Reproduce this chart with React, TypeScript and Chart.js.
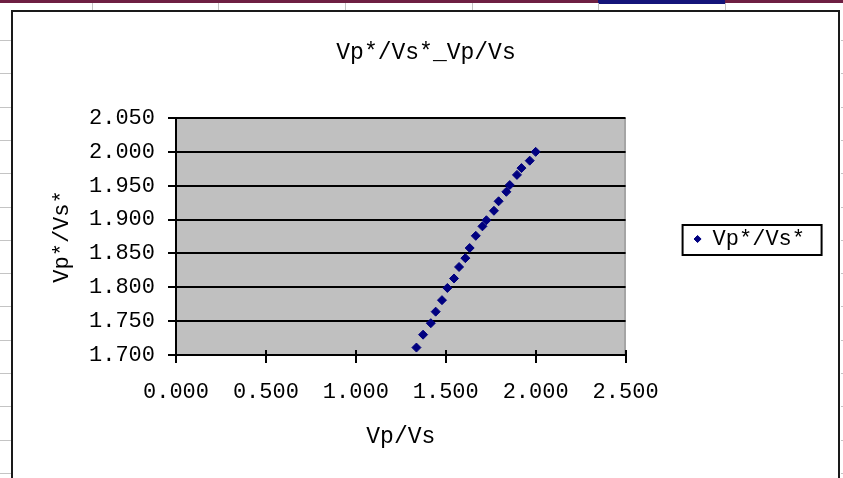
import { useEffect, useRef } from "react";
import { Chart, registerables } from "chart.js";

Chart.register(...registerables);

// Vp/Vs against Vp*/Vs* sample pairs
const vpVs = [
  1.337, 1.374, 1.417, 1.444, 1.479, 1.509, 1.546, 1.574, 1.609, 1.633, 1.667,
  1.704, 1.726, 1.768, 1.794, 1.837, 1.856, 1.896, 1.921, 1.967, 2.0,
];
const vpVsStar = [
  1.711, 1.73, 1.747, 1.764, 1.781, 1.799, 1.813, 1.83, 1.843, 1.858, 1.876,
  1.89, 1.899, 1.913, 1.927, 1.941, 1.951, 1.966, 1.976, 1.987, 2.0,
];

const xTickValues = [0, 0.5, 1.0, 1.5, 2.0, 2.5];
const yTickValues = [1.7, 1.75, 1.8, 1.85, 1.9, 1.95, 2.0, 2.05];

const chartTitle = "Vp*/Vs*_Vp/Vs";
const seriesName = "Vp*/Vs*";
const xAxisTitle = "Vp/Vs";
const yAxisTitle = "Vp*/Vs*";

const FONT = "'Liberation Mono', 'DejaVu Sans Mono', monospace";
const INK = "#000000";
const SERIES_COLOR = "#000080";

// Spreadsheet surroundings, the chart frame and the grey plot area
const sheetBackdrop = {
  id: "sheetBackdrop",
  beforeDraw(chart: any) {
    const { ctx, width, height, chartArea } = chart;
    ctx.save();
    ctx.fillStyle = "#ffffff";
    ctx.fillRect(0, 0, width, height);

    ctx.fillStyle = "#6e1f42";
    ctx.fillRect(0, 0, width, 3);
    ctx.fillStyle = "#14147a";
    ctx.fillRect(598, 0, 127, 4);

    ctx.strokeStyle = "#c4c4c4";
    ctx.lineWidth = 1;
    for (const x of [92, 218, 345, 472, 598, 725]) {
      ctx.beginPath();
      ctx.moveTo(x + 0.5, 3);
      ctx.lineTo(x + 0.5, 10);
      ctx.stroke();
    }
    for (let y = 40; y < height; y += 33.3) {
      const yy = Math.round(y) + 0.5;
      ctx.beginPath();
      ctx.moveTo(0, yy);
      ctx.lineTo(11, yy);
      ctx.moveTo(841, yy);
      ctx.lineTo(width, yy);
      ctx.stroke();
    }

    ctx.strokeStyle = "#1a1a1a";
    ctx.lineWidth = 2;
    ctx.strokeRect(12, 11, 827, 600);

    const { left, top, right, bottom } = chartArea;
    ctx.fillStyle = "#c0c0c0";
    ctx.fillRect(left, top, right - left, bottom - top);
    ctx.strokeStyle = "#808080";
    ctx.lineWidth = 1;
    ctx.beginPath();
    ctx.moveTo(right - 0.5, top);
    ctx.lineTo(right - 0.5, bottom);
    ctx.stroke();
    ctx.restore();
  },
};

// Category-axis tick marks that cross into the plot area
const crossTicks = {
  id: "crossTicks",
  beforeDatasetsDraw(chart: any) {
    const { ctx, chartArea } = chart;
    const xScale = chart.scales.x;
    ctx.save();
    ctx.strokeStyle = INK;
    ctx.lineWidth = 2;
    for (const t of xScale.ticks) {
      const px = Math.round(xScale.getPixelForValue(t.value));
      ctx.beginPath();
      ctx.moveTo(px, chartArea.bottom - 5);
      ctx.lineTo(px, chartArea.bottom);
      ctx.stroke();
    }
    ctx.restore();
  },
};

// Border round the legend entry
const legendFrame = {
  id: "legendFrame",
  afterDraw(chart: any) {
    const box = chart.legend?.legendHitBoxes?.[0];
    if (!box) return;
    const { ctx } = chart;
    const cy = box.top + box.height / 2;
    ctx.save();
    ctx.strokeStyle = INK;
    ctx.lineWidth = 2;
    ctx.strokeRect(box.left - 11, cy - 14, 139, 30);
    ctx.restore();
  },
};

export default function App() {
  const canvasRef = useRef<HTMLCanvasElement>(null);

  useEffect(() => {
    const canvas = canvasRef.current;
    if (!canvas) return;
    const points = vpVs.map((x, i) => ({ x, y: vpVsStar[i] }));

    const chart = new Chart(canvas, {
      type: "scatter",
      data: {
        datasets: [
          {
            label: seriesName,
            data: points,
            pointStyle: "rectRot",
            pointRadius: 4.5,
            pointBackgroundColor: SERIES_COLOR,
            pointBorderColor: SERIES_COLOR,
            backgroundColor: SERIES_COLOR,
            borderColor: SERIES_COLOR,
            pointBorderWidth: 1,
            showLine: false,
          },
        ],
      },
      options: {
        animation: false,
        responsive: false,
        devicePixelRatio: 1,
        events: [],
        layout: { padding: { left: 37, right: 28, top: 0, bottom: 0 } },
        plugins: {
          title: {
            display: true,
            text: chartTitle,
            color: INK,
            font: { family: FONT, size: 23, weight: "normal", lineHeight: 1.2 },
            padding: { top: 39.2, bottom: 51.2 },
          },
          legend: {
            display: true,
            position: "right",
            align: "center",
            labels: {
              usePointStyle: true,
              boxWidth: 8,
              boxHeight: 5,
              padding: 68,
              color: INK,
              font: { family: FONT, size: 22 },
            },
          },
          tooltip: { enabled: false },
        },
        scales: {
          x: {
            type: "linear",
            position: "bottom",
            min: 0,
            max: 2.5,
            afterBuildTicks: (s: any) => {
              s.ticks = xTickValues.map((value) => ({ value }));
            },
            afterFit: (s: any) => {
              s.height = 123;
            },
            ticks: {
              callback: (v: any) => Number(v).toFixed(3),
              color: INK,
              font: { family: FONT, size: 22 },
              padding: 16,
              maxRotation: 0,
              autoSkip: false,
            },
            grid: {
              drawOnChartArea: false,
              drawTicks: true,
              color: INK,
              lineWidth: 2,
              tickLength: 8,
            },
            border: { display: true, color: INK, width: 2 },
            title: {
              display: true,
              text: xAxisTitle,
              color: INK,
              font: { family: FONT, size: 23, lineHeight: 1.2 },
              padding: { top: 0, bottom: 27.2 },
            },
          },
          y: {
            type: "linear",
            position: "left",
            min: 1.7,
            max: 2.05,
            afterBuildTicks: (s: any) => {
              s.ticks = yTickValues.map((value) => ({ value }));
            },
            afterFit: (s: any) => {
              s.width = 139;
            },
            ticks: {
              callback: (v: any) => Number(v).toFixed(3),
              color: INK,
              font: { family: FONT, size: 22 },
              padding: 13,
              autoSkip: false,
            },
            grid: {
              color: INK,
              lineWidth: 2,
              tickLength: 8,
            },
            border: { display: true, color: INK, width: 2 },
            title: {
              display: true,
              text: yAxisTitle,
              color: INK,
              font: { family: FONT, size: 22, lineHeight: 1.2 },
              padding: { top: 11.8, bottom: 0 },
            },
          },
        },
      },
      plugins: [sheetBackdrop, crossTicks, legendFrame],
    } as any);

    return () => chart.destroy();
  }, []);

  return (
    <div style={{ position: "absolute", left: 0, top: 0, width: 843, height: 478 }}>
      <canvas
        ref={canvasRef}
        width={843}
        height={478}
        style={{ display: "block", width: 843, height: 478 }}
      />
    </div>
  );
}
